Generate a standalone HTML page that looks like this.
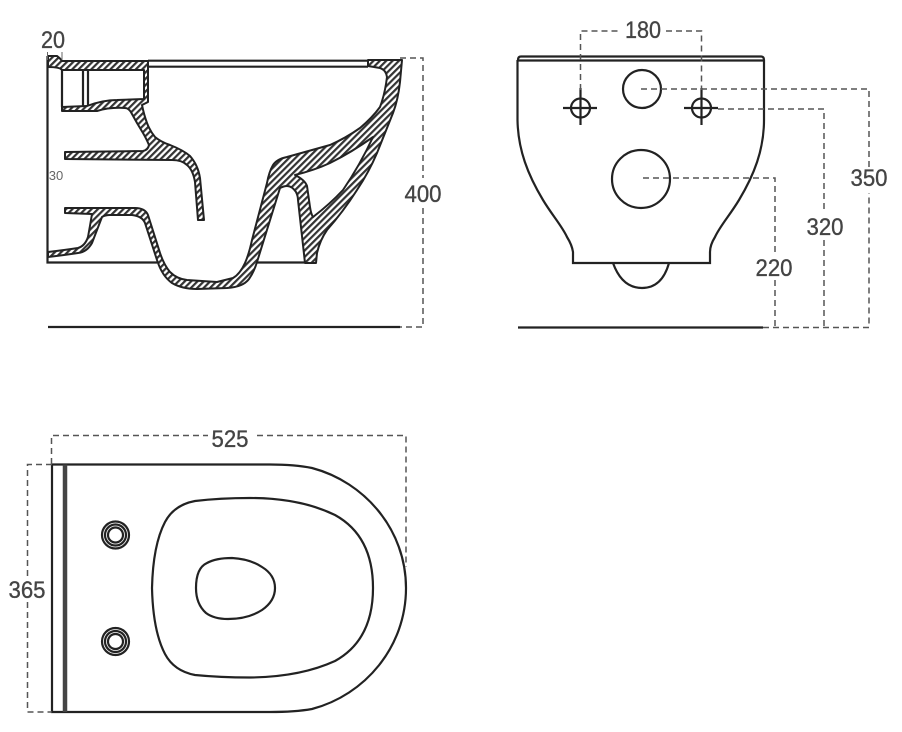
<!DOCTYPE html>
<html><head><meta charset="utf-8"><style>
html,body{margin:0;padding:0;background:#fff}
svg{display:block}
text{font-family:"Liberation Sans",sans-serif;font-size:24px;fill:#444;stroke:#444;stroke-width:.35;text-anchor:middle}
.d{stroke:#555;stroke-width:1.5;stroke-dasharray:6 4;fill:none}
.l{stroke:#222;stroke-width:2.2;fill:none}
.h{fill:url(#hatch);stroke:#222;stroke-width:2;stroke-linejoin:round;fill-rule:evenodd}
</style></head><body>
<svg width="902" height="732" viewBox="0 0 902 732" xmlns="http://www.w3.org/2000/svg">
<defs><pattern id="hatch" width="4.5" height="4.5" patternUnits="userSpaceOnUse" patternTransform="rotate(45)"><rect width="4.5" height="4.500" fill="#fff"/><rect width="2.2" height="4.500" fill="#333"/></pattern></defs>
<rect width="902" height="732" fill="#fff"/>

<!-- side section -->
<path class="l" d="M47.5 56V262.500H157M257 262.500H305M148 60.700H368M148 66.700H368M62 70V107M83 70V107M88 70V107"/>
<path class="h" d="M48 56L57 56Q60 58 62 61L148 61L148 102L142 105Q144 115 147 123Q150 131 155 137Q161 142 170 145Q183 150 190 156Q198 165 200 178L204 220L198 220L195 182Q193 170 187 165Q182 160 172 160L65 159L65 152L143 151Q148 150 149 145Q146 138 143 133L137 123L132 114Q129 108 125 108Q110 107 97 111L62 111L62 107L87 106Q103 100 117 100L144 99L144 70L62 70Q60 67 48 67Z"/>
<path class="h" d="M65 208L65 213L92 214Q90 226 88 237Q85 246 78 248Q65 250 48 252L48 257Q65 255 78 253Q87 252 92 243L102 217Q105 215 110 215L132 215Q142 216 145 223L157 260Q162 276 172 283Q182 289 197 289L227 288Q243 287 249 279Q254 272 257 262L280 188Q284 186 287 186Q292 186 296 192Q298 196 298 200L305 263L316 263L317 253Q320 240 327 230Q343 212 357 190Q369 172 377 153L393 113Q398 100 400 82L402 60L368 60L368 66L380 68Q386 70 387 77Q385 94 380 107Q372 118 360 128Q346 138 330 145L287 157Q277 159 273 165Q269 172 267 183L252 240Q249 254 245 263Q240 274 233 278L217 282L187 280Q177 279 170 272Q164 265 160 253L148 215Q145 208 135 208Z"/>
<path d="M295 175Q315 170 330 163Q352 152 373 137Q360 165 343 190Q330 204 313 217Q311 214 310 207L307 186Q305 180 295 175Z" fill="#fff" stroke="#222" stroke-width="2" stroke-linejoin="round"/>
<path class="l" d="M48 327H400"/>
<path class="d" d="M400 58H423V178M423 208V327H400"/>
<path d="M47.500 52V60M62 52V60" stroke="#666" stroke-width="1"/>
<text x="53" y="48" textLength="24" lengthAdjust="spacingAndGlyphs">20</text>
<text x="56" y="180" style="font-size:13px;fill:#666;stroke:none">30</text>
<text x="423" y="202" textLength="37" lengthAdjust="spacingAndGlyphs">400</text>

<!-- front view -->
<path class="l" d="M518 60Q518 56.500 521 56.500H761Q764 56.500 764 60" stroke-width="2.500"/>
<path class="l" d="M518 60.500H764" stroke="#555" stroke-width="1"/>
<path class="l" d="M517.500 60V120C518 150 528 175 543 200C552 215 562 226 567 237Q572 245 573 252V263H710V252Q710 245 715 237C720 226 730 215 739 200C754 175 764 150 764 120V60"/>
<path class="l" d="M613 263Q622 288 642 288Q662 288 669 263"/>
<circle class="l" cx="642" cy="89" r="19"/>
<circle class="l" cx="641" cy="179" r="29"/>
<circle class="l" cx="580.500" cy="108" r="9.500"/>
<circle class="l" cx="701.500" cy="108" r="9.500"/>
<path class="l" d="M563 108H597M580.500 88V125M684 108H718M701.500 88V125" stroke-width="1.800"/>
<path class="d" d="M580.500 90V31H618M666 31H701.500V90"/>
<path class="l" d="M518 327.500H763"/>
<path class="d" d="M763 327.500H869V193M869 167V89H641M718 109H824V213M824 240V327.500M643 178H775V252M775 280V327.500"/>
<text x="643" y="38" textLength="36" lengthAdjust="spacingAndGlyphs">180</text>
<text x="869" y="186" textLength="37" lengthAdjust="spacingAndGlyphs">350</text>
<text x="825" y="235" textLength="37" lengthAdjust="spacingAndGlyphs">320</text>
<text x="774" y="276" textLength="37" lengthAdjust="spacingAndGlyphs">220</text>

<!-- top view -->
<path class="l" d="M52 464.500V712H270Q295 712 312 709C365 695 406 647 406 588C406 530 365 482 312 468Q295 464.500 270 464.500H52Z"/>
<path d="M65 464.500V712" stroke="#444" stroke-width="4.500" fill="none"/>
<path class="l" d="M152 588Q153 545 165 522Q174 505 195 501Q220 498 250 498Q300 498 335 515Q373 536 373 588Q373 640 335 661Q300 677 250 677.500Q220 677.500 195 675Q174 671 165 654Q153 631 152 588Z"/>
<path class="l" d="M196 588Q196 568 207 563Q216 558 232 558Q250 559 262 567Q275 575 275 588Q275 601 262 610Q248 619 228 619Q214 619 206 613Q196 604 196 588Z"/>
<circle class="l" cx="115.500" cy="535" r="13.500"/><circle class="l" cx="115.500" cy="535" r="10.500" stroke-width="1"/><circle class="l" cx="115.500" cy="535" r="7.500"/>
<circle class="l" cx="115.500" cy="641.500" r="13.500"/><circle class="l" cx="115.500" cy="641.500" r="10.500" stroke-width="1"/><circle class="l" cx="115.500" cy="641.500" r="7.500"/>
<path class="d" d="M51.500 464V435.500H208M257 435.500H406V567M52 464.500H27.500V577M27.500 602V712H52"/>
<text x="230" y="447" textLength="37" lengthAdjust="spacingAndGlyphs">525</text>
<text x="27" y="598" textLength="37" lengthAdjust="spacingAndGlyphs">365</text>
</svg>
</body></html>
